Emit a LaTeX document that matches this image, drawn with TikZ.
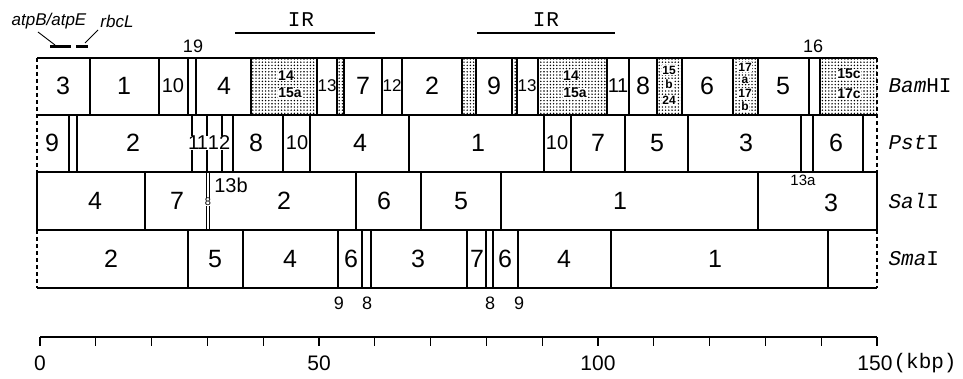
\documentclass[tikz,border=0pt]{standalone}
\usepackage{fontspec}
\setmainfont{Liberation Sans}
\setmonofont{Liberation Mono}
\usetikzlibrary{patterns}
\pgfdeclarepatternformonly{stipdots}{\pgfqpoint{-1pt}{-1pt}}{\pgfqpoint{1pt}{1pt}}{\pgfqpoint{3.2pt}{3.2pt}}{\pgfpathcircle{\pgfqpoint{0pt}{0pt}}{0.8pt}\pgfusepath{fill}}
\begin{document}
\begin{tikzpicture}[x=1pt,y=-1pt,line width=1.1pt]
\tikzset{
  big/.style={inner sep=0pt,font=\fontsize{25}{25}\selectfont},
  mid/.style={inner sep=0.5pt,font=\fontsize{20}{20}\selectfont},
  sml/.style={inner sep=0pt,font=\fontsize{17}{17}\selectfont},
  num/.style={inner sep=0pt,font=\fontsize{18}{18}\selectfont},
  axl/.style={inner sep=0pt,font=\fontsize{21}{21}\selectfont},
  stip/.style={pattern=stipdots,pattern color=black},
  stxt/.style={inner sep=0.6pt,fill=white,font=\bfseries\fontsize{14}{14}\selectfont},
  stxs/.style={inner sep=0.5pt,fill=white,font=\bfseries\fontsize{12}{12}\selectfont},
  enz/.style={inner sep=0pt,anchor=west,font=\ttfamily\fontsize{21}{21}\selectfont},
  edge/.style={dash pattern=on 4pt off 3pt},
  gene/.style={inner sep=0pt,font=\itshape\fontsize{17}{17}\selectfont},
  irl/.style={inner sep=0pt,font=\ttfamily\fontsize{21}{21}\selectfont}
}
\useasboundingbox (0,0) rectangle (963,379);
% ---- top annotations
\node[gene] (atp) at (49,21) {atpB/atpE};
\node[gene] (rbc) at (117,21) {rbcL};
\coordinate (g1a) at (50,47); \coordinate (g1b) at (71,47);
\coordinate (g2a) at (76,47); \coordinate (g2b) at (88,47);
\draw[line width=3pt] (g1a) -- (g1b);
\draw[line width=3pt] (g2a) -- (g2b);
\draw[line width=0.9pt] (38,32) -- (55,45);
\draw[line width=0.9pt] (98,30) -- (85,43);
\node[irl] (ir1) at (301,20) {I\kern1pt R};
\node[irl] (ir2) at (546,20) {I\kern1pt R};
\coordinate (ir1a) at (235,33); \coordinate (ir1b) at (375,33);
\coordinate (ir2a) at (477,33); \coordinate (ir2b) at (615,33);
\draw (ir1a) -- (ir1b);
\draw (ir2a) -- (ir2b);
\node[num] (n19) at (193,46) {19};
\node[num] (n16) at (813,46) {16};
% ---- stippled fragments (BamHI)
\foreach \a/\b in {251/317,337/344,462/476,512/517,538/607,657/682,733/758,820/877}
  \fill[stip] (\a,58) rectangle (\b,115);
% ---- frame
\foreach \y in {58,115,172,230,288} \draw (37,\y) -- (877,\y);
\draw[edge] (37,58) -- (37,172);
\draw (37,172) -- (37,230);
\draw[edge] (37,230) -- (37,288);
\draw[edge] (877,58) -- (877,172);
\draw (877,172) -- (877,230);
\draw[edge] (877,230) -- (877,288);
% ---- BamHI cuts
\foreach \x in {90,159,188,196,251,317,337,344,382,402,462,476,512,517,538,607,629,657,682,733,758,809,820}
  \draw (\x,58) -- (\x,115);
% ---- PstI cuts
\foreach \x in {69,77,192,207,222,233,283,310,409,544,571,625,688,801,813,863}
  \draw (\x,115) -- (\x,172);
% ---- SalI cuts
\foreach \x in {145,356,421,501,758}
  \draw (\x,172) -- (\x,230);
\draw[line width=0.8pt] (206,172) -- (206,230) (209.5,172) -- (209.5,230);
% ---- SmaI cuts
\foreach \x in {188,243,362,371,467,486,493,611,828}
  \draw (\x,230) -- (\x,288);
\draw[line width=2.4pt] (338,230) -- (338,288) (518,230) -- (518,288);
% ---- BamHI labels
\node[big] (b3) at (63,86) {3};
\node[big] (b1) at (124,86) {1};
\node[mid] (b10) at (173,86) {10};
\node[big] (b4) at (224,86) {4};
\node[stxt] (b14a) at (286,76) {14};
\node[stxt] (b15a) at (290,93) {15a};
\node[sml] (b13a) at (327,86) {13};
\node[big] (b7) at (363,86) {7};
\node[sml] (b12) at (392,86) {12};
\node[big] (b2) at (432,86) {2};
\node[big] (b9) at (494,86) {9};
\node[sml] (b13b) at (527,86) {13};
\node[stxt] (b14b) at (571,76) {14};
\node[stxt] (b15b) at (575,93) {15a};
\node[mid] (b11) at (618,86) {1\kern-2pt 1};
\node[big] (b8) at (643,86) {8};
\node[stxs] (b15c) at (669,70) {15};
\node[stxs] (b15d) at (669,84) {b};
\node[stxs] (b24) at (669,100) {24};
\node[big] (b6) at (707,86) {6};
\node[stxs] (b17a) at (745,67) {17};
\node[stxs] (b17b) at (745,80) {a};
\node[stxs] (b17c) at (745,93) {17};
\node[stxs] (b17d) at (745,106) {b};
\node[big] (b5) at (783,86) {5};
\node[stxt] (b15e) at (849,74) {15c};
\node[stxt] (b17e) at (849,94) {17c};
\node[enz] (eB) at (888,86) {\itshape Bam\upshape HI};
% ---- PstI labels
\node[big] (p9) at (52,143) {9};
\node[big] (p2) at (133,143) {2};
\node[mid,fill=white,inner sep=0.2pt] (p11) at (198,143) {1\kern-2.5pt 1};
\node[mid,fill=white,inner sep=0.2pt] (p12) at (219,143) {12};
\node[big] (p8) at (256,143) {8};
\node[mid] (p10) at (297,143) {10};
\node[big] (p4) at (360,143) {4};
\node[big] (p1) at (478,143) {1};
\node[mid] (p10b) at (557,143) {10};
\node[big] (p7) at (598,143) {7};
\node[big] (p5) at (657,143) {5};
\node[big] (p3) at (746,143) {3};
\node[big] (p6) at (836,143) {6};
\node[enz] (eP) at (888,143) {\itshape Pst\upshape I};
% ---- SalI labels
\node[big] (s4) at (95,201) {4};
\node[big] (s7) at (177,201) {7};
\node[inner sep=0.3pt,fill=white,font=\fontsize{11}{11}\selectfont] (s8) at (208,202) {8};
\node[mid] (s13b) at (231,185) {13b};
\node[big] (s2) at (284,201) {2};
\node[big] (s6) at (384,201) {6};
\node[big] (s5) at (461,201) {5};
\node[big] (s1) at (620,201) {1};
\node[inner sep=0pt,font=\fontsize{15}{15}\selectfont] (s13a) at (803,180) {13a};
\node[big] (s3) at (831,203) {3};
\node[enz] (eS) at (888,201) {\itshape Sal\upshape I};
% ---- SmaI labels
\node[big] (m2) at (111,259) {2};
\node[big] (m5) at (215,259) {5};
\node[big] (m4) at (290,259) {4};
\node[big] (m6) at (351,259) {6};
\node[big] (m3) at (418,259) {3};
\node[big] (m7) at (477,259) {7};
\node[big] (m6b) at (505,259) {6};
\node[big] (m4b) at (564,259) {4};
\node[big] (m1) at (715,259) {1};
\node[enz] (eM) at (888,259) {\itshape Sma\upshape I};
\node[num] (u9a) at (339,303) {9};
\node[num] (u8a) at (367,303) {8};
\node[num] (u8b) at (490,303) {8};
\node[num] (u9b) at (519,303) {9};
% ---- scale
\coordinate (s0) at (40,337); \coordinate (s150) at (877,337);
\draw (s0) -- (s150);
\foreach \i in {0,...,15} \draw (40+55.8*\i,337) -- ++(0,9);
\node[axl] (a0) at (40,363) {0};
\node[axl] (a50) at (319,363) {50};
\node[axl] (a100) at (598,363) {100};
\node[axl,anchor=east] (a150) at (893,363) {150};
\node[inner sep=0pt,anchor=west,font=\ttfamily\fontsize{21}{21}\selectfont] (kbp) at (a150.east) {(kbp)};
\end{tikzpicture}
\end{document}
